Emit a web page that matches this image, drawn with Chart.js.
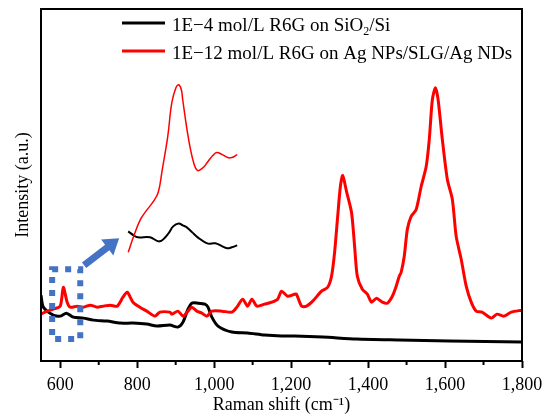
<!DOCTYPE html>
<html>
<head>
<meta charset="utf-8">
<script src="https://cdn.jsdelivr.net/npm/chart.js@4.4.1/dist/chart.umd.min.js"></script>
<style>
    html, body { margin: 0; padding: 0; background: #fff; }
    #wrap { width: 544px; height: 417px; }
</style>
</head>
<body>
<div id="wrap"><canvas id="ramanChart" width="544" height="417"></canvas></div>
<script>
// Raman shift (cm-1) and intensity (a.u.).
const redShift = [550, 566, 582, 600, 608, 618, 626, 644, 660, 678, 696, 711, 730, 748, 763, 774, 789, 807, 825, 846, 859, 885, 890, 906, 919, 932, 942, 955, 968, 981, 994, 1020, 1046, 1059, 1074, 1087, 1098, 1111, 1131, 1150, 1165, 1175, 1191, 1209, 1214, 1227, 1240, 1256, 1279, 1295, 1305, 1313, 1321, 1328, 1334, 1344, 1357, 1365, 1372, 1385, 1398, 1409, 1422, 1437, 1450, 1463, 1473, 1481, 1486, 1494, 1502, 1512, 1525, 1538, 1551, 1559, 1567, 1575, 1582, 1593, 1606, 1619, 1629, 1642, 1655, 1668, 1681, 1696, 1720, 1735, 1753, 1772, 1800];
const redInt = [47, 50, 52, 55, 74, 59, 54, 55, 54, 56, 54, 55, 56, 55, 64, 69, 59, 54, 50, 45, 49, 49, 47, 50, 45, 50, 54, 50, 48, 45, 50, 50, 49, 54, 62, 55, 62, 55, 57, 59, 62, 70, 65, 67, 67, 55, 55, 60, 70, 74, 85, 109, 145, 175, 186, 170, 149, 115, 85, 72, 67, 59, 63, 59, 58, 65, 75, 85, 89, 105, 132, 145, 152, 175, 195, 222, 262, 274, 262, 222, 182, 162, 125, 102, 75, 59, 50, 49, 43, 47, 45, 49, 51];

const blackShift = [550, 553, 556, 566, 582, 600, 616, 634, 660, 686, 722, 756, 789, 825, 851, 885, 906, 919, 932, 942, 958, 976, 984, 994, 1010, 1046, 1087, 1131, 1175, 1209, 1282, 1370, 1481, 1611, 1800];
const blackInt = [66, 58, 54, 50, 46, 45, 48, 44, 43, 41, 40, 38, 38, 37, 35, 36, 34, 39, 52, 58, 58, 57, 54, 44, 35, 29, 28, 26, 25, 25, 24, 22, 21, 20, 19];

// magnified view of the 575-655 cm-1 region (inset)
const insetRedShift = [575, 579, 584, 589, 593, 597, 600, 604, 607, 610, 612, 614, 615, 619, 623, 626, 630, 633, 637, 640, 644, 648, 651, 655];
const insetRedInt = [109, 125, 142, 152, 159, 169, 192, 225, 259, 274, 277, 272, 262, 225, 199, 191, 194, 199, 206, 209, 207, 204, 204, 207];
const insetBlackShift = [575, 579, 582, 591, 598, 604, 608, 612, 615, 618, 622, 626, 633, 639, 644, 648, 651, 655];
const insetBlackInt = [130, 126, 124, 124, 120, 127, 135, 138, 136, 134, 129, 124, 118, 118, 115, 113, 114, 116];

const xTicks = [600, 800, 1000, 1200, 1400, 1600, 1800];
const xMinorTicks = [700, 900, 1100, 1300, 1500, 1700];

const legendLabels = ['1E\u22124 mol/L R6G on SiO', '1E\u221212 mol/L R6G on Ag NPs/SLG/Ag NDs'];

const SERIF = '"Liberation Serif", "Times New Roman", serif';
const BLUE = '#4472C4';

// highlighted region and arrow, in data units
const zoomBox = { x0: 579, x1: 652, y0: 22, y1: 92 };
const arrow = { x0: 662, y0: 96, x1: 753, y1: 123 };

const toPoints = (xs, ys) => xs.map((x, i) => ({ x: x, y: ys[i] }));

// frame, minor ticks, dotted box, arrow and legend
const decorPlugin = {
    id: 'decor',
    afterDatasetsDraw(chart) {
        const ctx = chart.ctx;
        const xs = chart.scales.x, ys = chart.scales.y;
        const area = chart.chartArea;

        ctx.save();
        // dotted box
        ctx.strokeStyle = BLUE;
        ctx.lineWidth = 6;
        ctx.setLineDash([6, 7]);
        ctx.lineCap = 'butt';
        const bx0 = xs.getPixelForValue(zoomBox.x0), bx1 = xs.getPixelForValue(zoomBox.x1);
        const by0 = ys.getPixelForValue(zoomBox.y1), by1 = ys.getPixelForValue(zoomBox.y0);
        ctx.strokeRect(bx0, by0, bx1 - bx0, by1 - by0);
        ctx.setLineDash([]);

        // arrow
        const ax0 = xs.getPixelForValue(arrow.x0), ay0 = ys.getPixelForValue(arrow.y0);
        const ax1 = xs.getPixelForValue(arrow.x1), ay1 = ys.getPixelForValue(arrow.y1);
        const ang = Math.atan2(ay1 - ay0, ax1 - ax0);
        const len = Math.hypot(ax1 - ax0, ay1 - ay0);
        ctx.translate(ax0, ay0);
        ctx.rotate(ang);
        ctx.fillStyle = BLUE;
        ctx.beginPath();
        ctx.moveTo(0, -3.5);
        ctx.lineTo(len - 15, -3.5);
        ctx.lineTo(len - 15, -10);
        ctx.lineTo(len, 0);
        ctx.lineTo(len - 15, 10);
        ctx.lineTo(len - 15, 3.5);
        ctx.lineTo(0, 3.5);
        ctx.closePath();
        ctx.fill();
        ctx.restore();

        ctx.save();
        // frame
        ctx.strokeStyle = '#000';
        ctx.lineWidth = 2;
        ctx.strokeRect(area.left, area.top, area.right - area.left, area.bottom - area.top);

        // minor ticks
        ctx.lineWidth = 2;
        xMinorTicks.forEach((v) => {
            const px = xs.getPixelForValue(v);
            ctx.beginPath();
            ctx.moveTo(px, area.bottom);
            ctx.lineTo(px, area.bottom + 4);
            ctx.stroke();
        });

        // legend
        const lx = area.left + 81, tx = area.left + 131;
        const rows = [{ color: '#000', y: area.top + 14 }, { color: '#ff0000', y: area.top + 42 }];
        ctx.lineWidth = 3;
        rows.forEach((r, i) => {
            ctx.strokeStyle = r.color;
            ctx.beginPath();
            ctx.moveTo(lx, r.y);
            ctx.lineTo(lx + 43, r.y);
            ctx.stroke();
        });
        ctx.fillStyle = '#000';
        ctx.textBaseline = 'alphabetic';
        ctx.font = '19px ' + SERIF;
        ctx.fillText(legendLabels[0], tx, rows[0].y + 8);
        let w = ctx.measureText(legendLabels[0]).width;
        ctx.font = '12px ' + SERIF;
        ctx.fillText('2', tx + w, rows[0].y + 12);
        w += ctx.measureText('2').width;
        ctx.font = '19px ' + SERIF;
        ctx.fillText('/Si', tx + w, rows[0].y + 8);
        ctx.fillText(legendLabels[1], tx, rows[1].y + 8);
        ctx.restore();
    }
};

const lineStyle = (color, width, tension) => ({
    borderColor: color,
    borderWidth: width,
    pointRadius: 0,
    fill: false,
    tension: tension
});

new Chart(document.getElementById('ramanChart').getContext('2d'), {
    type: 'line',
    data: {
        datasets: [
            Object.assign({ data: toPoints(redShift, redInt), xAxisID: 'x' }, lineStyle('#ff0000', 3, 0.25)),
            Object.assign({ data: toPoints(blackShift, blackInt), xAxisID: 'x' }, lineStyle('#000', 3, 0.25)),
            Object.assign({ data: toPoints(insetRedShift, insetRedInt), xAxisID: 'xi' }, lineStyle('#ff0000', 1.5, 0.4)),
            Object.assign({ data: toPoints(insetBlackShift, insetBlackInt), xAxisID: 'xi' }, lineStyle('#000', 2, 0.4))
        ]
    },
    options: {
        responsive: false,
        animation: false,
        layout: { padding: { top: 9, right: 22, left: 0, bottom: 0 } },
        plugins: { legend: { display: false }, tooltip: { enabled: false } },
        scales: {
            x: {
                type: 'linear',
                position: 'bottom',
                min: 550,
                max: 1800,
                afterFit: (axis) => {
                    axis.height = 56;
                    // keep the plot box fixed, labels may hang over the padding
                    axis.paddingLeft = 0;
                    axis.paddingRight = 0;
                },
                afterBuildTicks: (axis) => { axis.ticks = xTicks.map((v) => ({ value: v })); },
                border: { display: false },
                grid: { drawOnChartArea: false, drawTicks: true, tickLength: 7, tickWidth: 2, color: '#000' },
                ticks: {
                    color: '#000',
                    padding: 6,
                    maxRotation: 0,
                    font: { family: SERIF, size: 18 },
                    callback: (v) => v.toLocaleString('en-US')
                },
                title: {
                    display: true,
                    text: 'Raman shift (cm\u207B\u00B9)',
                    color: '#000',
                    font: { family: SERIF, size: 18 },
                    padding: { top: 0, bottom: 1 }
                }
            },
            xi: {
                type: 'linear',
                display: false,
                min: 511,
                max: 864
            },
            y: {
                type: 'linear',
                min: 0,
                max: 353,
                afterFit: (axis) => { axis.width = 41; },
                border: { display: false },
                grid: { display: false },
                ticks: { display: false },
                title: {
                    display: true,
                    text: 'Intensity (a.u.)',
                    color: '#000',
                    font: { family: SERIF, size: 18 },
                    padding: { top: 12, bottom: 0 }
                }
            }
        }
    },
    plugins: [decorPlugin]
});
</script>
</body>
</html>
